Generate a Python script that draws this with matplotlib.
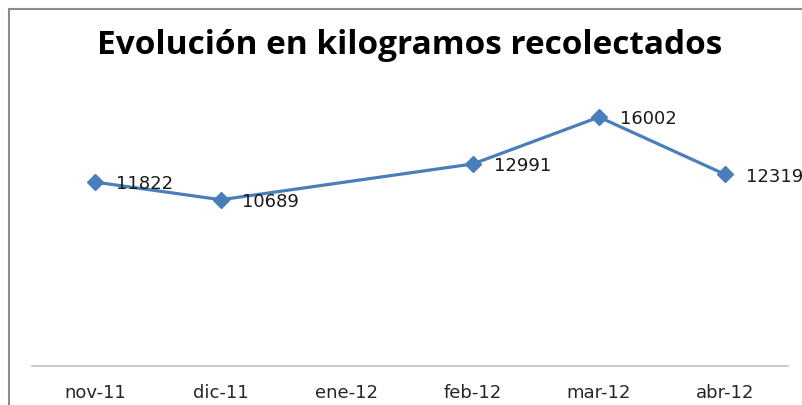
import matplotlib
matplotlib.use("Agg")
import matplotlib.pyplot as plt
from matplotlib.patches import Rectangle

plt.rcParams["font.family"] = ["DejaVu Sans"]

months = ["nov-11", "dic-11", "ene-12", "feb-12", "mar-12", "abr-12"]
kilos = [11822, 10689, None, 12991, 16002, 12319]

LINE = "#4a7ebb"

fig = plt.figure(figsize=(8.02, 4.06), dpi=100)
ax = fig.add_axes([32 / 802, 39 / 406, 756 / 802, 280 / 406])

# Excel joins the line across the empty month
xs = [i for i, v in enumerate(kilos) if v is not None]
ys = [v for v in kilos if v is not None]
ax.plot(xs, ys, color=LINE, lw=2.3, marker="D", markersize=8.5,
        markerfacecolor=LINE, markeredgecolor=LINE)
for x, y in zip(xs, ys):
    ax.annotate(str(y), (x, y), xytext=(15, -1), textcoords="offset points",
                ha="left", va="center", fontsize=13, color="#1a1a1a")

ax.set_xlim(-0.5, len(months) - 0.5)
ax.set_ylim(0, 18000)
ax.set_xticks(range(len(months)))
ax.set_xticklabels(months, fontsize=13, color="#262626")
ax.tick_params(axis="x", length=0, pad=12)
ax.set_yticks([])
for s in ("top", "right", "left"):
    ax.spines[s].set_visible(False)
ax.spines["bottom"].set_color("#bfbfbf")
ax.spines["bottom"].set_linewidth(1.2)

fig.text(0.511, 0.888, "Evolución en kilogramos recolectados", ha="center", va="center",
         fontsize=24, fontweight="bold", color="#000000", family=["Open Sans", "DejaVu Sans"])

# chart area frame, cut by the image edge on the right and bottom
fig.add_artist(Rectangle((8.5 / 802, -0.05), 1.0, 1.05 - 9.5 / 406, transform=fig.transFigure,
                         fill=False, edgecolor="#8c8c8c", lw=1.5))

fig.savefig("out.png", dpi=100)
